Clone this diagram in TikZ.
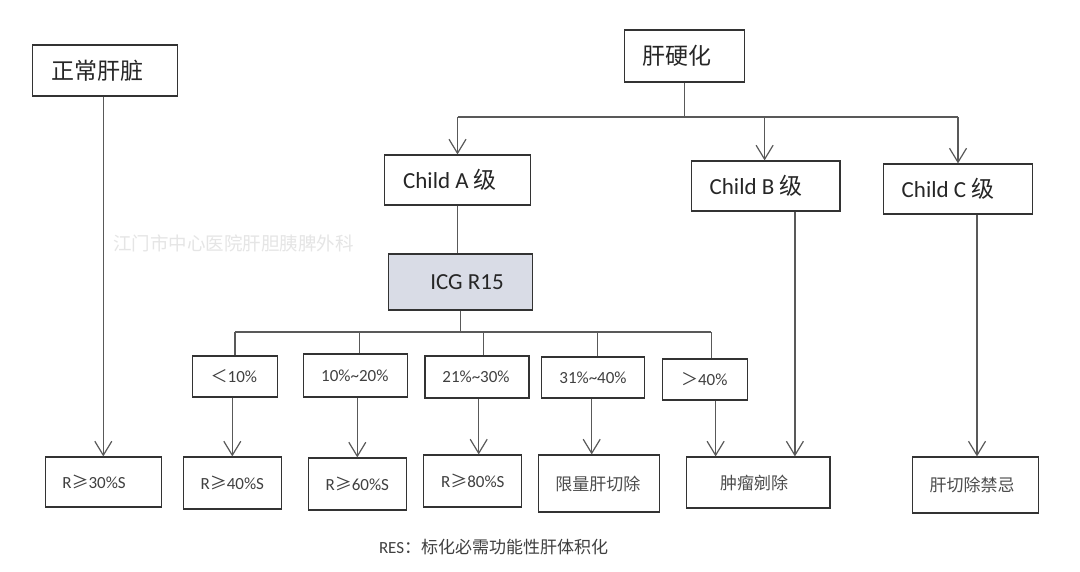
\documentclass[tikz,border=0pt]{standalone}
\usepackage{fontspec}
\setmainfont{Carlito}
\newfontfamily\cjk{Noto Sans CJK SC}
\usetikzlibrary{arrows.meta}
\newcommand\padR[1]{\hspace*{#1pt}}
\begin{document}
\begin{tikzpicture}[x=1pt,y=-1pt,
  box/.style={draw=black!80,line width=1.2pt,inner sep=0pt,align=center},
  big/.style={font=\fontsize{23}{25}\selectfont,text=black!85},
  small/.style={font=\fontsize{17}{19}\selectfont,text=black!75},
  cjksmall/.style={font=\cjk\fontsize{17}{19}\selectfont,text=black!70},
  conn/.style={draw=black!65,line width=1.2pt},
  arr/.style={conn,-{Straight Barb[length=14pt,width=17pt]}}]
\useasboundingbox[fill=white] (0,0) rectangle (1080,571);
% top row
\node[box,big,minimum width=145.3pt,minimum height=51pt] (normal) at (105,70.5) {{\cjk 正常肝脏}\padR{14.4}};
\node[box,big,minimum width=119.8pt,minimum height=52pt] (cirr) at (684.3,56) {{\cjk 肝硬化}\padR{14.6}};
\node[box,big,minimum width=145.7pt,minimum height=50pt] (childA) at (457.5,180) {Child A {\cjk 级}\padR{15}};
\node[box,big,minimum width=148.8pt,minimum height=50pt] (childB) at (765.6,186) {Child B {\cjk 级}\padR{19}};
\node[box,big,minimum width=149pt,minimum height=50pt] (childC) at (958,189) {Child C {\cjk 级}\padR{20}};
\node[box,big,fill={rgb,255:red,217;green,220;blue,230},minimum width=144.3pt,minimum height=56pt] (icg) at (460.6,282) {\padR{12.8}ICG R15};
% percentage row
\node[box,small,minimum width=84.7pt,minimum height=41pt] (p1) at (234.9,376.5) {{\cjk ＜}10\%\padR{2}};
\node[box,small,minimum width=104pt,minimum height=43pt] (p2) at (355.8,375.5) {10\%\textasciitilde 20\%\padR{2}};
\node[box,small,minimum width=104pt,minimum height=42pt] (p3) at (477,377) {21\%\textasciitilde 30\%\padR{2}};
\node[box,small,minimum width=103.3pt,minimum height=41pt] (p4) at (593,377.5) {31\%\textasciitilde 40\%};
\node[box,small,minimum width=85.1pt,minimum height=41pt] (p5) at (705.2,379.5) {{\cjk ＞}40\%\padR{2}};
% result row
\node[box,small,minimum width=116.4pt,minimum height=50pt] (r1) at (103.3,482) {R{\cjk ≥}30\%S\padR{18.6}};
\node[box,small,minimum width=98.2pt,minimum height=52pt] (r2) at (232.3,483) {R{\cjk ≥}40\%S};
\node[box,small,minimum width=98.2pt,minimum height=52pt] (r3) at (357.3,484) {R{\cjk ≥}60\%S};
\node[box,small,minimum width=97.9pt,minimum height=52pt] (r4) at (472.8,481) {R{\cjk ≥}80\%S};
\node[box,cjksmall,minimum width=121.2pt,minimum height=57pt] (r5) at (598.9,483.5) {限量肝切除\padR{2}};
\node[box,cjksmall,minimum width=143.3pt,minimum height=51pt] (r6) at (758.3,482.5) {肿瘤剜除\padR{8.6}};
\node[box,cjksmall,minimum width=126.4pt,minimum height=56pt] (r7) at (975.5,485) {肝切除禁忌\padR{7}};
% watermark and footnote
\node[font=\cjk\fontsize{18.5}{20}\selectfont,text=black!10] (wm) at (233.7,243) {江门市中心医院肝胆胰脾外科};
\node[font=\fontsize{17}{19}\selectfont,text=black!75,anchor=west,inner sep=0pt] (note) at (378.8,547) {RES{\cjk\fontsize{17}{19}\selectfont ：标化必需功能性肝体积化}};
% bus coordinates
\coordinate (busA) at (684.5,117);
\coordinate (busB) at (460.7,332);
% connectors from cirrhosis
\draw[conn] (cirr.south) -- (cirr.south |- busA);
\draw[conn] (childA.north |- busA) -- (childC.north |- busA);
\draw[arr] (childA.north |- busA) -- (childA.north);
\draw[arr] ([xshift=-1pt]childB.north |- busA) -- ([xshift=-1pt]childB.north);
\draw[arr] (childC.north |- busA) -- (childC.north);
% Child A to ICG
\draw[conn] (childA.south) -- (icg.north -| childA.south);
\draw[conn] (icg.south) -- (icg.south |- busB);
\draw[conn] (p1.north |- busB) -- ([xshift=6pt]p5.north |- busB);
\draw[conn] (p1.north |- busB) -- (p1.north);
\draw[conn] ([xshift=3.4pt]p2.north |- busB) -- ([xshift=3.4pt]p2.north);
\draw[conn] ([xshift=6.2pt]p3.north |- busB) -- ([xshift=6.2pt]p3.north);
\draw[conn] ([xshift=4.2pt]p4.north |- busB) -- ([xshift=4.2pt]p4.north);
\draw[conn] ([xshift=6pt]p5.north |- busB) -- ([xshift=6pt]p5.north);
% down arrows
\draw[arr] (r1.north |- normal.south) -- (r1.north);
\draw[arr] (r2.north |- p1.south) -- (r2.north);
\draw[arr] (r3.north |- p2.south) -- (r3.north);
\draw[arr] ([xshift=1.7pt]p3.south) -- ([xshift=1.7pt]p3.south |- r4.north);
\draw[arr] ([xshift=-1.3pt]p4.south) -- ([xshift=-1.3pt]p4.south |- r5.north);
\draw[arr] ([xshift=10.4pt]p5.south) -- ([xshift=10.4pt]p5.south |- r6.north);
\draw[arr] ([xshift=29.3pt]childB.south) -- ([xshift=29.3pt]childB.south |- r6.north);
\draw[arr] ([xshift=1.5pt]r7.north |- childC.south) -- ([xshift=1.5pt]r7.north);
\end{tikzpicture}
\end{document}
